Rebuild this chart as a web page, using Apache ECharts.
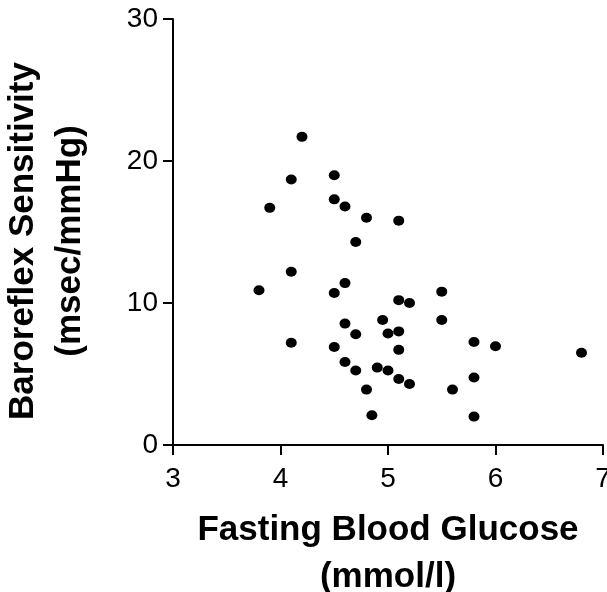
<!DOCTYPE html>
<html>
<head>
<meta charset="utf-8">
<script src="https://cdn.jsdelivr.net/npm/echarts@6/dist/echarts.min.js"></script>
<style>
  html, body { margin: 0; padding: 0; background: #fff; }
  #chart { width: 607px; height: 592px; }
</style>
</head>
<body>
<div id="chart"></div>
<script>
// fasting blood glucose (mmol/l) vs baroreflex sensitivity (msec/mmHg)
const glucose = [4.2, 4.1, 4.5, 3.9, 4.5, 4.6, 4.8, 5.1, 4.7, 4.1,
  3.8, 4.6, 4.5, 5.1, 5.2, 5.5, 5.5, 4.95, 4.6, 4.7,
  5.0, 5.1, 4.1, 4.5, 5.1, 5.8, 6.0, 6.8, 4.6, 4.7,
  4.9, 5.0, 5.1, 5.2, 5.8, 4.8, 5.6, 4.85, 5.8];
const brs = [21.7, 18.7, 19.0, 16.7, 17.3, 16.8, 16.0, 15.8, 14.3, 12.2,
  10.9, 11.4, 10.7, 10.2, 10.0, 10.8, 8.8, 8.8, 8.55, 7.8,
  7.85, 8.0, 7.2, 6.9, 6.7, 7.25, 6.95, 6.5, 5.85, 5.25,
  5.45, 5.25, 4.65, 4.3, 4.75, 3.9, 3.9, 2.1, 2.0];
const xTicks = { min: 3, max: 7, step: 1 };
const yTicks = { min: 0, max: 30, step: 10 };

const chart = echarts.init(document.getElementById('chart'));

const font = 'Liberation Sans, Arial, sans-serif';
const axisCommon = {
  axisLine: { lineStyle: { color: '#000', width: 2 } },
  axisTick: { show: true, inside: false, length: 10, lineStyle: { color: '#000', width: 2 } },
  splitLine: { show: false }
};
const nameStyle = {
  fontFamily: font,
  fontWeight: 'bold',
  fontSize: 35,
  color: '#000',
  lineHeight: 47,
  align: 'center',
  verticalAlign: 'middle'
};

chart.setOption({
  backgroundColor: '#fff',
  animation: false,
  grid: { left: 173, right: 4, top: 19, bottom: 147, containLabel: false, outerBoundsMode: 'none' },
  xAxis: Object.assign({}, axisCommon, {
    type: 'value',
    min: xTicks.min, max: xTicks.max, interval: xTicks.step,
    name: 'Fasting Blood Glucose\n(mmol/l)',
    nameLocation: 'middle',
    nameGap: 109,
    nameTextStyle: nameStyle,
    axisLabel: { color: '#000', fontSize: 28, margin: 20, fontFamily: font }
  }),
  yAxis: Object.assign({}, axisCommon, {
    type: 'value',
    min: yTicks.min, max: yTicks.max, interval: yTicks.step,
    name: 'Baroreflex Sensitivity\n(msec/mmHg)',
    nameLocation: 'middle',
    nameRotate: 90,
    nameGap: 126,
    nameTextStyle: Object.assign({}, nameStyle, { padding: [0, 18, 0, 0] }),
    axisLabel: { color: '#000', fontSize: 28, margin: 15, fontFamily: font }
  }),
  series: [{
    type: 'scatter',
    data: glucose.map((g, i) => [g, brs[i]]),
    symbol: 'circle',
    symbolSize: [11, 10],
    itemStyle: { color: '#000', opacity: 1 }
  }]
});
</script>
</body>
</html>
